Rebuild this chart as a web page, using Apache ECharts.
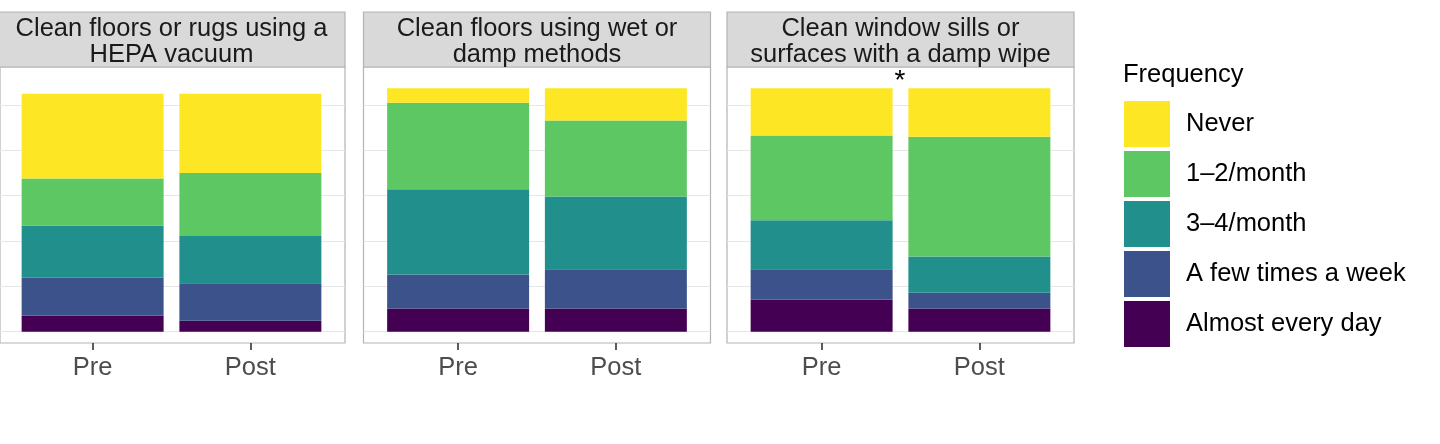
<!DOCTYPE html>
<html>
<head>
<meta charset="utf-8">
<script src="https://cdn.jsdelivr.net/npm/echarts@6/dist/echarts.min.js"></script>
<style>
  html, body { margin: 0; padding: 0; background: #fff; }
  #chart { width: 1440px; height: 444px; }
</style>
</head>
<body>
<div id="chart"></div>
<script>
// facets (panel strips) and x categories
var facets = ['Clean floors or rugs using a\nHEPA vacuum', 'Clean floors using wet or\ndamp methods', 'Clean window sills or\nsurfaces with a damp wipe'];
var times = ['Pre', 'Post'];
var levels = ['Almost every day', 'A few times a week', '3–4/month', '1–2/month', 'Never'];
var legendOrder = ['Never', '1–2/month', '3–4/month', 'A few times a week', 'Almost every day'];

// values per level, ordered: facet1 Pre, facet1 Post, facet2 Pre, facet2 Post, facet3 Pre, facet3 Post
var almostEveryDay = [3.5, 2.4, 5.1, 5.1, 7.1, 5.1];
var fewTimesWeek   = [8.4, 8.3, 7.5, 8.7, 6.7, 3.5];
var threeFourMonth = [11.5, 10.4, 18.8, 16.0, 10.8, 8.0];
var oneTwoMonth    = [10.4, 13.9, 19.1, 16.8, 18.7, 26.4];
var never          = [18.7, 17.5, 3.2, 7.1, 10.4, 10.7];
var levelValues = [almostEveryDay, fewTimesWeek, threeFourMonth, oneTwoMonth, never];

var colors = ['#440154', '#3B528B', '#21908C', '#5DC863', '#FDE725'];
var font = '"Liberation Sans", Arial, Helvetica, sans-serif';
var fs = 25.5;

// panel geometry
var panelLeft = [-2, 363.5, 727];
var panelWidth = 347;
var panelTop = 67;
var panelHeight = 276;
var inset = 15.75; // ggplot's 0.6 discrete expansion vs echarts' half band

var myChart = echarts.init(document.getElementById('chart'));

var grids = [], xAxes = [], yAxes = [], series = [], graphics = [];

facets.forEach(function (f, p) {
    var bg = p * 2, fg = p * 2 + 1;
    // background panel: border + horizontal grid lines
    grids.push({
        left: panelLeft[p], top: panelTop, width: panelWidth, height: panelHeight,
        show: true, backgroundColor: '#fff', borderColor: '#b3b3b3', borderWidth: 1.2
    });
    // bars
    grids.push({
        left: panelLeft[p] + inset, top: panelTop, width: panelWidth - 2 * inset, height: panelHeight
    });
    xAxes.push({
        type: 'value', gridIndex: bg, min: 0, max: 1, show: false
    });
    xAxes.push({
        type: 'category', gridIndex: fg, data: times,
        axisLine: { show: false, onZero: false },
        splitLine: { show: false },
        axisTick: { show: true, alignWithLabel: true, length: 7, lineStyle: { color: '#333', width: 1.6 } },
        axisLabel: { margin: 12, fontSize: fs, color: '#4d4d4d', fontFamily: font }
    });
    yAxes.push({
        type: 'value', gridIndex: bg, min: -2.5, max: 58.4, splitNumber: 6,
        axisLine: { show: false }, axisTick: { show: false }, axisLabel: { show: false },
        splitLine: { show: true, showMinLine: false, showMaxLine: false, lineStyle: { color: '#e6e6e6', width: 1.2 } }
    });
    yAxes.push({
        type: 'value', gridIndex: fg, min: -2.5, max: 58.4, show: false
    });
    levels.forEach(function (lv, l) {
        series.push({
            type: 'bar', name: lv, xAxisIndex: fg, yAxisIndex: fg, stack: 'facet' + p,
            barWidth: '90%', itemStyle: { color: colors[l] },
            data: [levelValues[l][p * 2], levelValues[l][p * 2 + 1]],
            emphasis: { disabled: true }
        });
    });
    // strip
    graphics.push({
        type: 'rect', z: 10,
        shape: { x: panelLeft[p], y: 12, width: panelWidth, height: 55 },
        style: { fill: '#d9d9d9', stroke: '#b3b3b3', lineWidth: 1.2 }
    });
    graphics.push({
        type: 'text', z: 11, x: panelLeft[p] + panelWidth / 2, y: 42,
        style: { text: f, fill: '#1a1a1a', fontSize: fs, fontFamily: font, lineHeight: 26.7, align: 'center', verticalAlign: 'middle' }
    });
});

// significance marker on third facet
graphics.push({
    type: 'text', z: 11, x: 900, y: 81,
    style: { text: '*', fill: '#000', fontSize: 28, fontFamily: font, align: 'center', verticalAlign: 'middle' }
});
// legend title
graphics.push({
    type: 'text', z: 11, x: 1123, y: 75,
    style: { text: 'Frequency', fill: '#000', fontSize: fs, fontFamily: font, align: 'left', verticalAlign: 'middle' }
});

var option = {
    backgroundColor: '#fff',
    animation: false,
    legend: {
        data: legendOrder, orient: 'vertical', left: 1124, top: 101, padding: 0,
        itemWidth: 46, itemHeight: 46, itemGap: 4, icon: 'rect', selectedMode: false,
        textStyle: { fontSize: fs, color: '#000', fontFamily: font, padding: [0, 0, 0, 11] }
    },
    grid: grids,
    xAxis: xAxes,
    yAxis: yAxes,
    series: series,
    graphic: graphics
};

myChart.setOption(option);
</script>
</body>
</html>
